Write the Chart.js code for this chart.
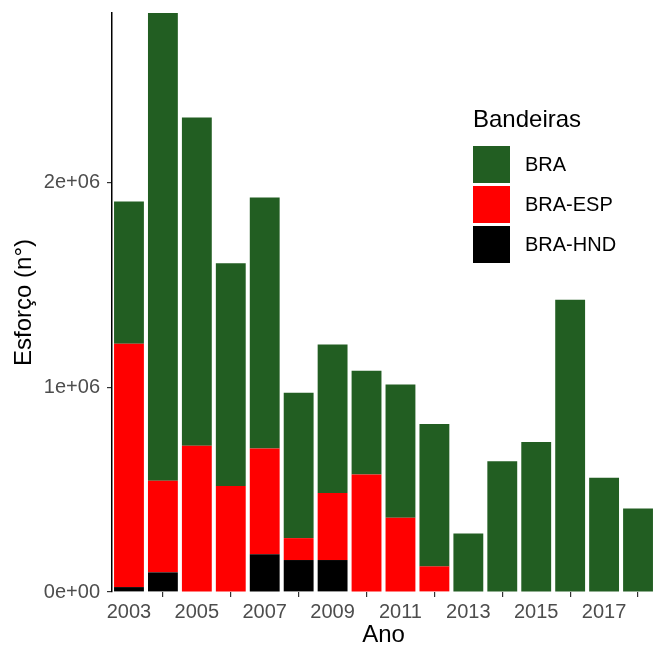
<!DOCTYPE html>
<html>
<head>
<meta charset="utf-8">
<script src="https://cdn.jsdelivr.net/npm/chart.js@4"></script>
<style>
  html, body { margin: 0; padding: 0; background: #fff; overflow: hidden; }
  canvas { display: block; }
</style>
</head>
<body>
<canvas id="chart" width="656" height="651"></canvas>
<script>
// --- Dados ---
const years = ['2003','2004','2005','2006','2007','2008','2009','2010','2011','2012','2013','2014','2015','2016','2017','2018'];
const braValues = [694000, 2283000, 1602000, 1088000, 1224000, 710000, 725000, 506000, 650000, 695000, 286000, 638000, 732000, 1426000, 558000, 408000];
const braEspValues = [1188000, 447000, 714000, 517000, 517000, 107000, 327000, 574000, 363000, 125000, 0, 0, 0, 0, 0, 0];
const braHndValues = [24000, 96000, 0, 0, 184000, 156000, 156000, 0, 0, 0, 0, 0, 0, 0, 0, 0];
const yTickValues = [0, 1000000, 2000000];
const yTickLabels = ['0e+00', '1e+06', '2e+06'];

const FONT = 'Liberation Sans, Arial, sans-serif';

// Legenda desenhada à mão, no estilo do ggplot
const legendPlugin = {
  id: 'ggLegend',
  afterDraw(chart) {
    const ctx = chart.ctx;
    const x0 = 473;
    ctx.save();
    ctx.fillStyle = '#000';
    ctx.textBaseline = 'middle';
    ctx.textAlign = 'left';
    ctx.font = '24px ' + FONT;
    ctx.fillText('Bandeiras', x0, 120);
    ctx.font = '20px ' + FONT;
    // ordem inversa: o último conjunto fica no topo da pilha
    const items = chart.data.datasets.slice().reverse();
    items.forEach((ds, i) => {
      const top = 146 + i * 40;
      ctx.fillStyle = ds.backgroundColor;
      ctx.fillRect(x0, top, 37, 37);
      ctx.fillStyle = '#000';
      ctx.fillText(ds.label, 525, top + 19);
    });
    ctx.restore();
  }
};

const ctx = document.getElementById('chart').getContext('2d');
new Chart(ctx, {
  type: 'bar',
  data: {
    labels: years,
    datasets: [
      { label: 'BRA-HND', data: braHndValues, backgroundColor: '#000000' },
      { label: 'BRA-ESP', data: braEspValues, backgroundColor: '#FF0000' },
      { label: 'BRA', data: braValues, backgroundColor: '#225E22' }
    ]
  },
  options: {
    responsive: false,
    animation: false,
    layout: { padding: { top: 13, right: 1, bottom: 0, left: 0 } },
    datasets: {
      bar: { barPercentage: 0.88, categoryPercentage: 1, borderWidth: 0 }
    },
    scales: {
      x: {
        stacked: true,
        offset: true,
        border: { display: false },
        grid: { display: true, drawOnChartArea: false, drawTicks: true, tickLength: 5, color: '#333333', lineWidth: 1.2 },
        ticks: {
          autoSkip: false,
          maxRotation: 0,
          padding: 3,
          color: '#4D4D4D',
          font: { family: FONT, size: 20 },
          callback: function(value, index) {
            const y = parseInt(years[index]);
            return y % 2 === 1 ? years[index] : null;
          }
        },
        title: {
          display: true,
          text: 'Ano',
          color: '#000',
          font: { family: FONT, size: 24 },
          padding: { top: 0, bottom: 1 }
        },
        afterFit: function(scale) {
          scale.height = 59;
          scale.paddingLeft = 0;
          scale.paddingRight = 0;
        }
      },
      y: {
        stacked: true,
        min: 0,
        max: 2826000,
        border: { display: true, color: '#000000', width: 1.5 },
        grid: { display: true, drawOnChartArea: false, drawTicks: true, tickLength: 5, color: '#333333', lineWidth: 1.2 },
        afterBuildTicks: function(scale) {
          scale.ticks = yTickValues.map(v => ({ value: v }));
        },
        ticks: {
          padding: 7,
          color: '#4D4D4D',
          font: { family: FONT, size: 20 },
          callback: function(value) {
            const i = yTickValues.indexOf(value);
            return i >= 0 ? yTickLabels[i] : null;
          }
        },
        title: {
          display: true,
          text: 'Esforço (n°)',
          color: '#000',
          font: { family: FONT, size: 24 },
          padding: { top: 10, bottom: 0 }
        },
        afterFit: function(scale) {
          scale.width = 112;
          scale.paddingTop = 0;
          scale.paddingBottom = 0;
        }
      }
    },
    plugins: {
      legend: { display: false },
      tooltip: { enabled: false }
    }
  },
  plugins: [legendPlugin]
});
</script>
</body>
</html>
